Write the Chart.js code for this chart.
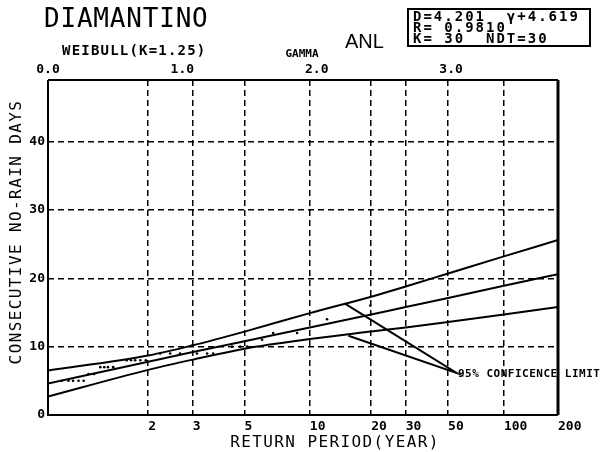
<!DOCTYPE html>
<html>
<head>
<meta charset="utf-8">
<script src="https://cdn.jsdelivr.net/npm/chart.js@4/dist/chart.umd.min.js"></script>
<style>
  body { margin: 0; background: #fff; }
  #wrap { width: 605px; height: 452px; }
</style>
</head>
<body>
<div id="wrap"><canvas id="weibullChart" width="605" height="452"></canvas></div>
<script>
// bottom axis tick labels (return period, years)
const returnPeriods = [2, 3, 5, 10, 20, 30, 50, 100, 200];
// top axis (gamma / weibull reduced variate)
const gammaTicks = [0, 1, 2, 3];
const dayTicks = [0, 10, 20, 30, 40];

// fitted line and 95% limits, read at these return periods
const bandT = [1, 2, 3, 5, 10, 20, 30, 50, 100, 200];
const fitDays = [4.6, 7.8, 9.2, 10.8, 12.8, 14.7, 15.8, 17.1, 18.9, 20.6];
const upperDays = [6.5, 8.7, 10.2, 12.2, 14.9, 17.3, 18.8, 20.7, 23.2, 25.6];
const lowerDays = [2.7, 6.6, 8.1, 9.7, 11.1, 12.2, 12.8, 13.6, 14.7, 15.8];

// observed points (K=30)
const obsT = [1.06, 1.10, 1.13, 1.17, 1.21, 1.25, 1.30, 1.36, 1.40, 1.44,
              1.50, 1.67, 1.73, 1.79, 1.87, 1.96, 2.22, 2.43, 2.66, 3.12,
              3.44, 3.65, 4.40, 4.78, 5.13, 5.99, 6.73, 8.70, 12.1, 19.8];
const obsDays = [5, 5, 5, 5, 5, 6, 6, 7, 7, 7,
                 7, 8, 8, 8, 8, 8, 9, 9, 9, 9,
                 9, 9, 10, 10, 10, 11, 12, 12, 14, 16];

// leader lines for the "95% confidence limit" note
const leaderT = [14.8, 55.4, 15.4];
const leaderDays = [16.3, 6.15, 11.6];

const K = 1.25;
const toG = t => Math.pow(Math.log(t), 1 / K);
const xMax = toG(200);
const pts = (ts, ys) => ts.map((t, i) => ({ x: toG(t), y: ys[i] }));

const mono = "'DejaVu Sans Mono', monospace";

const lineStyle = {
  showLine: true, borderColor: "#000", borderWidth: 2,
  pointRadius: 0, fill: false, cubicInterpolationMode: "monotone"
};

const textPlugin = {
  id: "extras",
  afterDraw(chart) {
    const ctx = chart.ctx;
    const a = chart.chartArea;
    ctx.save();
    ctx.fillStyle = "#000";
    ctx.strokeStyle = "#000";
    ctx.setLineDash([]);

    // frame
    ctx.lineWidth = 2;
    ctx.beginPath();
    ctx.moveTo(a.left, a.top); ctx.lineTo(a.left, a.bottom);
    ctx.lineTo(a.right, a.bottom);
    ctx.moveTo(a.left, a.top); ctx.lineTo(a.right, a.top);
    ctx.stroke();
    ctx.lineWidth = 3;
    ctx.beginPath();
    ctx.moveTo(a.right, a.top); ctx.lineTo(a.right, a.bottom);
    ctx.stroke();

    ctx.textBaseline = "alphabetic";
    ctx.textAlign = "left";
    ctx.font = "26px " + mono;
    ctx.letterSpacing = "0.8px";
    ctx.fillText("DIAMANTINO", 44, 27);

    ctx.font = "bold 14px " + mono;
    ctx.letterSpacing = "1.2px";
    ctx.fillText("WEIBULL(K=1.25)", 62, 55);

    ctx.font = "bold 11px " + mono;
    ctx.letterSpacing = "0px";
    ctx.textAlign = "center";
    ctx.fillText("GAMMA", 302, 57);

    ctx.font = "20px 'Liberation Sans', sans-serif";
    ctx.textAlign = "left";
    ctx.fillText("ANL", 345, 48);

    // stats box
    ctx.lineWidth = 2;
    ctx.strokeRect(408, 9, 182, 37);
    ctx.font = "bold 14px " + mono;
    ctx.letterSpacing = "2px";
    ctx.fillText("D=4.201  \u03b3+4.619", 413, 21);
    ctx.fillText("R= 0.9810", 413, 32);
    ctx.fillText("K= 30  NDT=30", 413, 43);

    // axis titles
    ctx.font = "16px " + mono;
    ctx.letterSpacing = "1.4px";
    ctx.textAlign = "center";
    ctx.fillText("RETURN PERIOD(YEAR)", 335, 447);
    ctx.save();
    ctx.translate(21, 232);
    ctx.rotate(-Math.PI / 2);
    ctx.fillText("CONSECUTIVE NO-RAIN DAYS", 0, 0);
    ctx.restore();

    // note
    ctx.font = "bold 11px " + mono;
    ctx.letterSpacing = "0.5px";
    ctx.textAlign = "left";
    ctx.textBaseline = "middle";
    ctx.fillText("95% CONFICENCE LIMIT", 458, 374);
    ctx.restore();
  }
};

new Chart(document.getElementById("weibullChart"), {
  type: "scatter",
  data: {
    datasets: [
      { ...lineStyle, data: pts(bandT, upperDays) },
      { ...lineStyle, data: pts(bandT, fitDays) },
      { ...lineStyle, data: pts(bandT, lowerDays) },
      { ...lineStyle, borderWidth: 2, cubicInterpolationMode: "default", data: pts(leaderT, leaderDays) },
      { data: pts(obsT, obsDays), showLine: false, pointRadius: 1.3, pointBackgroundColor: "#000", pointBorderWidth: 0 }
    ]
  },
  options: {
    responsive: false,
    animation: false,
    layout: { padding: { left: 0, right: 47, top: 0, bottom: 0 } },
    plugins: { legend: { display: false }, tooltip: { enabled: false } },
    scales: {
      x: {
        type: "linear", position: "bottom", min: 0, max: xMax,
        afterFit: s => { s.height = 37; },
        afterBuildTicks: s => { s.ticks = returnPeriods.map(t => ({ value: toG(t) })); },
        ticks: {
          autoSkip: false, maxRotation: 0, align: "start", padding: 4,
          color: "#000", font: { family: mono, size: 13, weight: "bold" },
          callback: (v, i) => String(returnPeriods[i])
        },
        grid: {
          drawTicks: false, lineWidth: 1.5,
          color: c => (c.tick && Math.abs(c.tick.value - xMax) < 1e-6) ? "rgba(0,0,0,0)" : "#000"
        },
        border: { display: false, dash: [6, 4] }
      },
      x2: {
        type: "linear", position: "top", min: 0, max: xMax,
        afterFit: s => { s.height = 80; },
        afterBuildTicks: s => { s.ticks = gammaTicks.map(v => ({ value: v })); },
        ticks: {
          autoSkip: false, maxRotation: 0, padding: 3,
          color: "#000", font: { family: mono, size: 13, weight: "bold" },
          callback: v => v.toFixed(1)
        },
        grid: { display: false, drawTicks: false },
        border: { display: false }
      },
      y: {
        min: 0, max: 49,
        afterFit: s => { s.width = 48; },
        afterBuildTicks: s => { s.ticks = dayTicks.map(v => ({ value: v })); },
        ticks: {
          padding: 3, color: "#000",
          font: { family: mono, size: 13, weight: "bold" }
        },
        grid: {
          drawTicks: false, lineWidth: 1.5,
          color: c => (c.tick && c.tick.value === 0) ? "rgba(0,0,0,0)" : "#000"
        },
        border: { display: false, dash: [6, 4] }
      }
    }
  },
  plugins: [textPlugin]
});
</script>
</body>
</html>
